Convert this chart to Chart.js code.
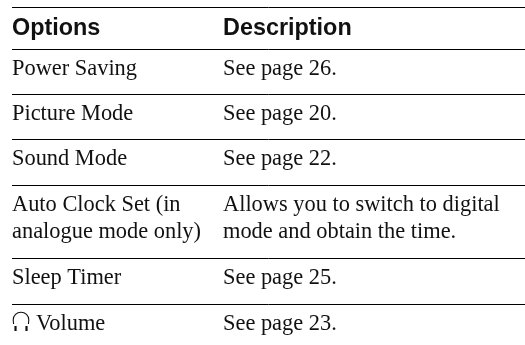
<!DOCTYPE html>
<html>
<head>
<meta charset="utf-8">
<title>Options</title>
<style>
    html, body { margin: 0; padding: 0; background: #fff; }
    canvas { display: block; }
</style>
<script src="https://cdn.jsdelivr.net/npm/chart.js@4"></script>
</head>
<body>
<canvas id="chart" width="525" height="345"></canvas>
<script>
const headers = ['Options', 'Description'];
const optionLabels = ['Power Saving', 'Picture Mode', 'Sound Mode', 'Auto Clock Set (in', 'analogue mode only)', 'Sleep Timer', 'Volume'];
const descriptions = ['See page 26.', 'See page 20.', 'See page 22.', 'Allows you to switch to digital', 'mode and obtain the time.', 'See page 25.', 'See page 23.'];
const ruleRows = [7.5, 49.5, 94.5, 139.5, 185.5, 258.5, 304.5];
const textRows = [75, 120, 165, 211, 238, 284, 330];
const headerRow = 35;

const ink = '#111';
const columns = [12, 223];
const volumeIndent = 36;

// puts the text on the canvas, using the scales for the positions
const tableText = {
    id: 'tableText',
    afterDatasetsDraw(chart) {
        const { ctx, scales: { x, y } } = chart;
        ctx.save();
        ctx.fillStyle = ink;
        ctx.textBaseline = 'alphabetic';
        ctx.font = 'bold 23.4px "Liberation Sans"';
        headers.forEach((h, i) => ctx.fillText(h, x.getPixelForValue(columns[i]), y.getPixelForValue(headerRow)));

        ctx.font = '22.4px "Liberation Serif"';
        optionLabels.forEach((t, i) => {
            const px = t === 'Volume' ? volumeIndent : columns[0];
            ctx.fillText(t, x.getPixelForValue(px), y.getPixelForValue(textRows[i]));
        });
        descriptions.forEach((t, i) => ctx.fillText(t, x.getPixelForValue(columns[1]), y.getPixelForValue(textRows[i])));

        // headphone icon in front of Volume
        const cx = x.getPixelForValue(21);
        const cy = y.getPixelForValue(320);
        ctx.strokeStyle = ink;
        ctx.lineWidth = 1.1;
        ctx.beginPath();
        ctx.arc(cx, cy, 7.8, Math.PI, Math.PI * 2);
        ctx.moveTo(cx - 7.8, cy);
        ctx.lineTo(cx - 7.4, cy + 4);
        ctx.moveTo(cx + 7.8, cy);
        ctx.lineTo(cx + 7.4, cy + 4);
        ctx.stroke();
        ctx.lineWidth = 2.2;
        ctx.beginPath();
        ctx.moveTo(cx - 5.5, cy + 6);
        ctx.lineTo(cx - 5.5, cy + 11);
        ctx.moveTo(cx + 5.5, cy + 6);
        ctx.lineTo(cx + 5.5, cy + 11);
        ctx.stroke();
        ctx.restore();
    }
};

new Chart(document.getElementById('chart'), {
    type: 'scatter',
    data: {
        datasets: [{
            label: 'Rows',
            data: textRows.map(r => ({ x: columns[0], y: r })),
            pointRadius: 0,
        }]
    },
    options: {
        responsive: false,
        animation: false,
        layout: { padding: { left: 12, right: 0, top: 0, bottom: 0 } },
        scales: {
            x: {
                type: 'linear',
                display: false,
                min: 12,
                max: 525,
            },
            y: {
                type: 'linear',
                reverse: true,
                min: 0,
                max: 345,
                afterBuildTicks(axis) {
                    axis.ticks = ruleRows.map(value => ({ value }));
                },
                ticks: { display: false },
                border: { display: false },
                grid: {
                    color: '#000',
                    lineWidth: 1,
                    drawTicks: false,
                }
            }
        },
        plugins: {
            legend: { display: false },
            tooltip: { enabled: false },
        }
    },
    plugins: [tableText]
});
</script>
</body>
</html>
